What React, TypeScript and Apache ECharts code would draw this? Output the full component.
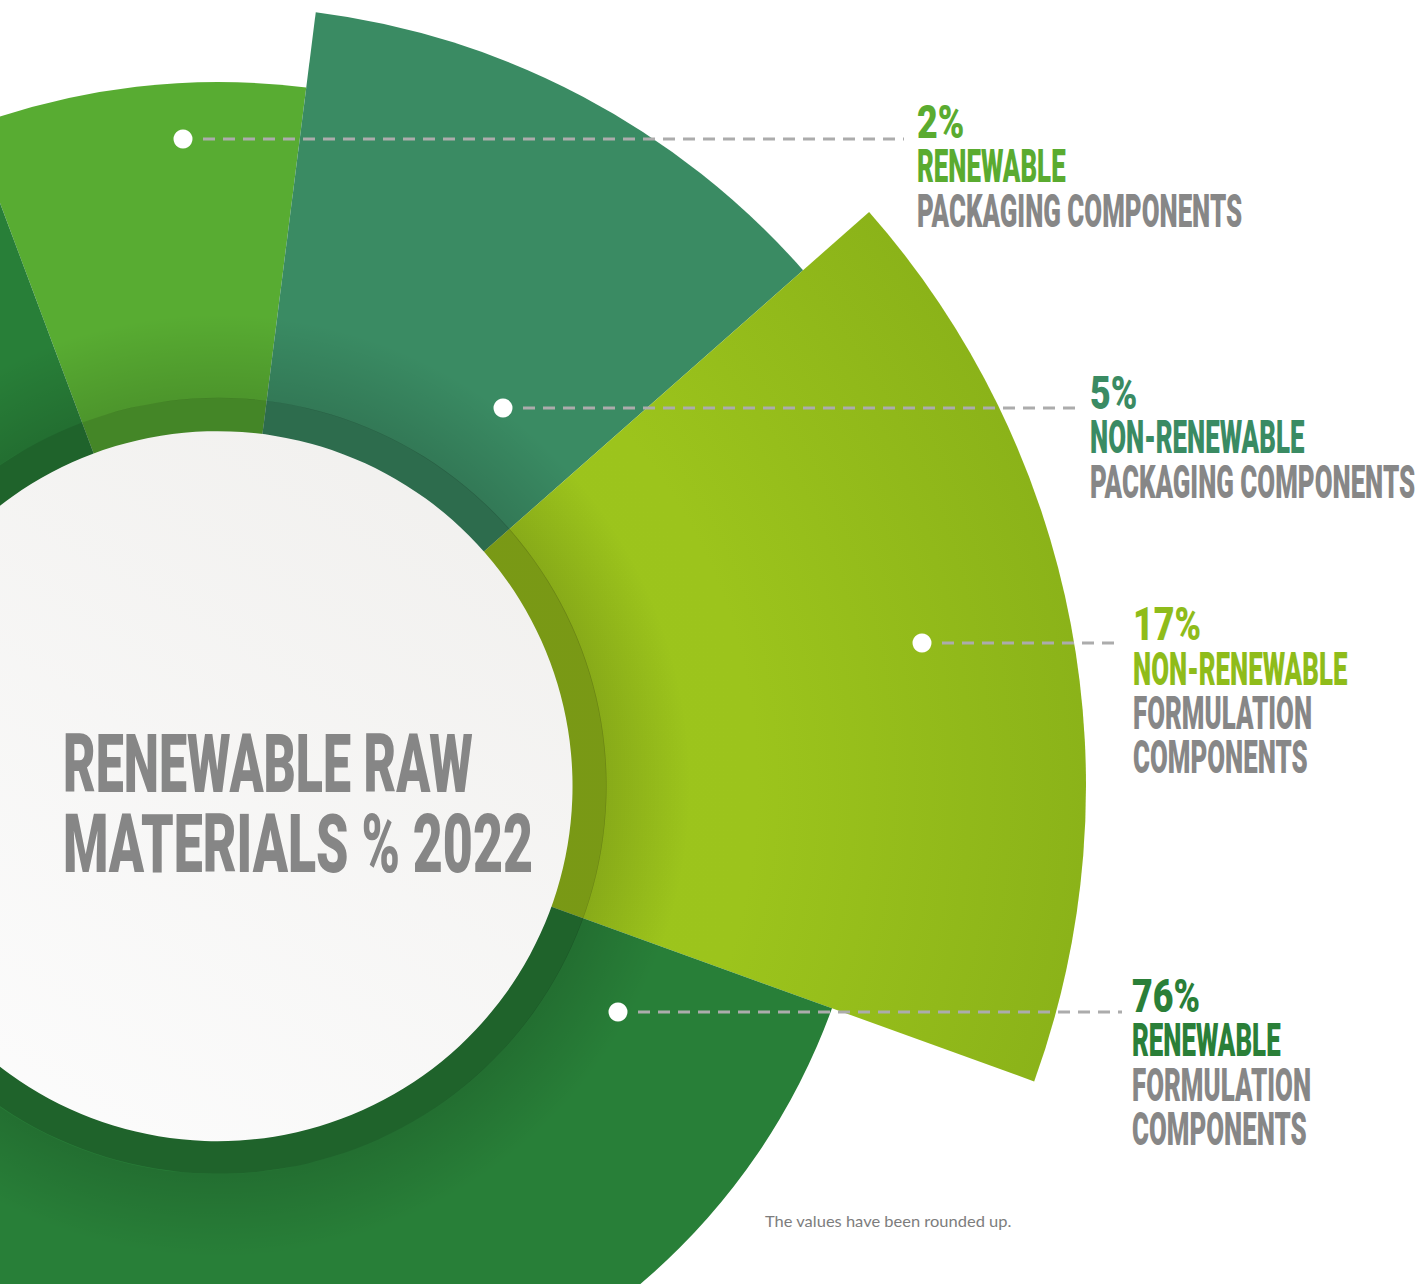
import React, { useEffect, useRef } from 'react';
import * as echarts from 'echarts';

// ---------------- data ----------------
const categories = [
  'Renewable packaging components',
  'Non-renewable packaging components',
  'Non-renewable formulation components',
  'Renewable formulation components',
];
const percentValues = [2, 5, 17, 76];
// angular width of each sector as drawn in the infographic (degrees, total 360)
const sectorSweepDeg = [27.7, 41.4, 61.3, 229.6];
const kindLabels = ['RENEWABLE', 'NON-RENEWABLE', 'NON-RENEWABLE', 'RENEWABLE'];
const componentLabels = [
  ['PACKAGING COMPONENTS'],
  ['PACKAGING COMPONENTS'],
  ['FORMULATION', 'COMPONENTS'],
  ['FORMULATION', 'COMPONENTS'],
];
const titleLines = ['RENEWABLE RAW', 'MATERIALS % 2022'];
const footnote = 'The values have been rounded up.';

// ---------------- layout / style ----------------
const W = 1427;
const H = 1284;
const CX = 218;
const CY = 786;
const START_ANGLE = 110.5;
const sectorOuterRadius = [704, 780, 868, 653];
const sectorColors = ['#58ac32', '#3a8b63', '#97bf1c', '#287f38'];
const labelColors = ['#5aab30', '#3a8b63', '#8fbc1a', '#2a7f38'];
const GRAY = '#878787';
const INNER_R = 355;
const RING_R = 388;
const SHADOW_R = 472;
const dotPos = [
  [183, 139],
  [503, 408],
  [922, 643],
  [618, 1012],
];
const leaderEndX = [904, 1075, 1122, 1122];
const textX = [917, 1090, 1133, 1132];
const textFirstY = [122, 393, 624.5, 996];
const LINE_PITCH = 44.3;
const LABEL_FONT_SIZE = 46;
const LABEL_TARGET_W = 325; // rendered width of "PACKAGING COMPONENTS"
const PCT_TARGET_W = 68; // rendered width of "76%"
const TITLE_FONT_SIZE = 82;
const TITLE_X = 63;
const titleY = [764, 844];
const titleTargetW = [410, 470];
const FOOT_X = 765;
const FOOT_Y = 1221;
const FOOT_TARGET_W = 247;
const FONT = 'Roboto';
const WEIGHT = 900;

export default function App() {
  const ref = useRef<HTMLDivElement>(null);

  useEffect(() => {
    if (!ref.current) return;
    const chart = echarts.init(ref.current, null, { renderer: 'svg' });

    const ctx = document.createElement('canvas').getContext('2d') as CanvasRenderingContext2D;
    const measure = (t: string, font: string) => {
      ctx.font = font;
      return ctx.measureText(t).width;
    };

    const labelFont = `${WEIGHT} ${LABEL_FONT_SIZE}px ${FONT}`;
    const labelScale = LABEL_TARGET_W / measure('PACKAGING COMPONENTS', labelFont);
    const pctScale = PCT_TARGET_W / measure('76%', labelFont);

    const sectorColor = (i: number) => {
      if (i === 2) {
        return {
          type: 'radial',
          x: CX,
          y: CY,
          r: sectorOuterRadius[i],
          global: true,
          colorStops: [
            { offset: 0, color: '#9dc51d' },
            { offset: 0.62, color: '#9cc41c' },
            { offset: 1, color: '#8bb319' },
          ],
        };
      }
      return sectorColors[i];
    };

    const common = {
      type: 'pie',
      center: [CX, CY],
      startAngle: START_ANGLE,
      clockwise: true,
      silent: true,
      avoidLabelOverlap: false,
      label: { show: false },
      labelLine: { show: false },
      emphasis: { disabled: true },
      itemStyle: { borderWidth: 0 },
    };

    const sectorSeries = sectorSweepDeg.map((_, i) => ({
      ...common,
      name: categories[i],
      z: 1,
      radius: [0, sectorOuterRadius[i]],
      data: sectorSweepDeg.map((v, j) => ({
        value: v,
        name: categories[j],
        itemStyle: { color: j === i ? sectorColor(i) : 'rgba(0,0,0,0)' },
      })),
    }));

    const shadowSeries = {
      ...common,
      z: 2,
      radius: [RING_R, SHADOW_R],
      data: [
        {
          value: 1,
          itemStyle: {
            color: {
              type: 'radial',
              x: 0.5,
              y: 0.5,
              r: 0.5,
              colorStops: [
                { offset: RING_R / SHADOW_R, color: 'rgba(0,0,0,0.13)' },
                { offset: 1, color: 'rgba(0,0,0,0)' },
              ],
            },
          },
        },
      ],
    };

    const ringSeries = {
      ...common,
      z: 3,
      radius: [INNER_R - 2, RING_R],
      data: [{ value: 1, itemStyle: { color: 'rgba(0,0,0,0.22)' } }],
    };

    const discSeries = {
      ...common,
      z: 4,
      radius: [0, INNER_R],
      data: [
        {
          value: 1,
          itemStyle: {
            color: {
              type: 'linear',
              x: 0.8,
              y: 0,
              x2: 0.2,
              y2: 1,
              colorStops: [
                { offset: 0, color: '#f1f0ee' },
                { offset: 1, color: '#fcfcfc' },
              ],
            },
          },
        },
      ],
    };

    const graphics: any[] = [];

    // centre title
    const titleFont = `${WEIGHT} ${TITLE_FONT_SIZE}px ${FONT}`;
    titleLines.forEach((t, k) => {
      graphics.push({
        type: 'text',
        x: TITLE_X,
        y: titleY[k],
        scaleX: titleTargetW[k] / measure(t, titleFont),
        z: 20,
        silent: true,
        style: {
          text: t,
          fill: '#868686',
          fontSize: TITLE_FONT_SIZE,
          fontWeight: WEIGHT,
          fontFamily: FONT,
          textAlign: 'left',
          textVerticalAlign: 'middle',
          verticalAlign: 'middle',
        },
      });
    });

    // leaders + labels
    percentValues.forEach((p, i) => {
      const [dx, dy] = dotPos[i];
      graphics.push({
        type: 'line',
        z: 20,
        silent: true,
        shape: { x1: dx + 20, y1: dy, x2: leaderEndX[i], y2: dy },
        style: { stroke: '#acacac', lineWidth: 3, lineDash: [12, 8] },
      });
      graphics.push({
        type: 'circle',
        z: 21,
        silent: true,
        shape: { cx: dx, cy: dy, r: 9.5 },
        style: { fill: '#ffffff' },
      });
      const lines = [
        { t: `${p}%`, c: labelColors[i], s: pctScale },
        { t: kindLabels[i], c: labelColors[i], s: labelScale },
        ...componentLabels[i].map((t) => ({ t, c: GRAY, s: labelScale })),
      ];
      lines.forEach((ln, k) => {
        graphics.push({
          type: 'text',
          x: textX[i],
          y: textFirstY[i] + k * LINE_PITCH,
          scaleX: ln.s,
          z: 20,
          silent: true,
          style: {
            text: ln.t,
            fill: ln.c,
            fontSize: LABEL_FONT_SIZE,
            fontWeight: WEIGHT,
            fontFamily: FONT,
            textAlign: 'left',
            textVerticalAlign: 'middle',
            verticalAlign: 'middle',
          },
        });
      });
    });

    // footnote
    const footFont = `normal 15px Lato`;
    graphics.push({
      type: 'text',
      x: FOOT_X,
      y: FOOT_Y,
      scaleX: FOOT_TARGET_W / measure(footnote, footFont),
      z: 20,
      silent: true,
      style: {
        text: footnote,
        fill: '#7d7d7d',
        fontSize: 15,
        fontFamily: 'Lato',
        textAlign: 'left',
        textVerticalAlign: 'middle',
        verticalAlign: 'middle',
      },
    });

    chart.setOption({
      animation: false,
      backgroundColor: '#ffffff',
      series: [...sectorSeries, shadowSeries, ringSeries, discSeries],
      graphic: { elements: graphics },
    });

    return () => chart.dispose();
  }, []);

  return (
    <div
      ref={ref}
      style={{ position: 'absolute', left: 0, top: 0, width: W, height: H }}
    />
  );
}
